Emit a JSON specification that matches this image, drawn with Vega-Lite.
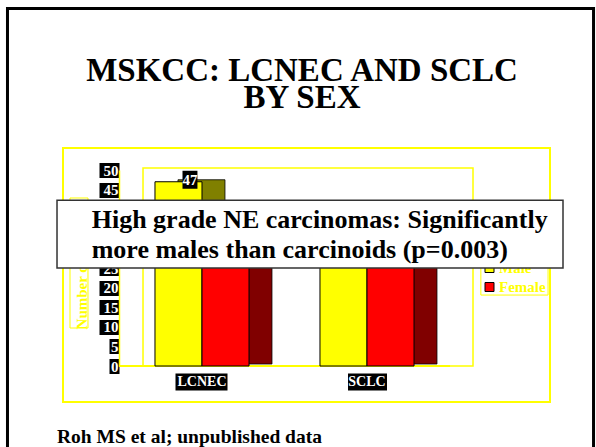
{
  "$schema": "https://vega.github.io/schema/vega-lite/v6.json",
  "width": 487,
  "height": 254,
  "autosize": {"type": "none"},
  "padding": {"left": 63, "top": 148, "right": 46, "bottom": 45},
  "background": "white",
  "config": {"view": {"stroke": "#ffff00", "strokeWidth": 2}, "font": "Liberation Serif"},
  "layer": [
    {
      "data": {"values": [{}]},
      "layer": [
        {
          "mark": {"type": "rect", "fill": "white", "fillOpacity": 0, "stroke": "black", "strokeWidth": 3},
          "encoding": {
            "x": {"datum": -0.114, "type": "quantitative", "scale": {"domain": [0, 1], "nice": false, "zero": false}, "axis": null},
            "x2": {"datum": 1.0894},
            "y": {"datum": 91.2, "type": "quantitative", "scale": {"domain": [0, 50], "range": [218, 22], "nice": false, "zero": false}, "axis": null},
            "y2": {"datum": -24}
          }
        },
        {
          "mark": {"type": "rect", "fill": "white", "fillOpacity": 0, "stroke": "#ffff00", "strokeWidth": 1.5},
          "encoding": {
            "x": {"datum": 0.1643, "type": "quantitative", "scale": {"domain": [0, 1], "nice": false, "zero": false}, "axis": null},
            "x2": {"datum": 0.8419},
            "y": {"datum": 50.5, "type": "quantitative", "scale": {"domain": [0, 50], "range": [218, 22], "nice": false, "zero": false}, "axis": null},
            "y2": {"datum": 0}
          }
        },
        {
          "mark": {"type": "rect", "fill": "white", "fillOpacity": 0, "stroke": "#ffff00", "strokeWidth": 1},
          "encoding": {
            "x": {"datum": 0.0144, "type": "quantitative", "scale": {"domain": [0, 1], "nice": false, "zero": false}, "axis": null},
            "x2": {"datum": 0.0513},
            "y": {"datum": 42.86, "type": "quantitative", "scale": {"domain": [0, 50], "range": [218, 22], "nice": false, "zero": false}, "axis": null},
            "y2": {"datum": 9.69}
          }
        },
        {
          "mark": {"type": "rule", "color": "#ffff00", "strokeWidth": 2},
          "encoding": {
            "x": {"datum": 0.115, "type": "quantitative", "scale": {"domain": [0, 1], "nice": false, "zero": false}, "axis": null},
            "x2": {"datum": 0.7947},
            "y": {"datum": 0, "type": "quantitative", "scale": {"domain": [0, 50], "range": [218, 22], "nice": false, "zero": false}, "axis": null}
          }
        },
        {
          "mark": {"type": "text", "text": ["MSKCC: LCNEC AND SCLC", "BY SEX"], "lineHeight": 27, "align": "center", "baseline": "alphabetic", "color": "black", "font": "Liberation Serif", "fontWeight": "bold", "fontSize": 33},
          "encoding": {
            "x": {"datum": 0.4908, "type": "quantitative", "scale": {"domain": [0, 1], "nice": false, "zero": false}, "axis": null},
            "y": {"datum": 72.7, "type": "quantitative", "scale": {"domain": [0, 50], "range": [218, 22], "nice": false, "zero": false}, "axis": null}
          }
        }
      ]
    },
    {
      "data": {
        "values": [
          {"type": "LCNEC", "sex": "Male", "count": 47},
          {"type": "LCNEC", "sex": "Female", "count": 35},
          {"type": "SCLC", "sex": "Male", "count": 38},
          {"type": "SCLC", "sex": "Female", "count": 32}
        ]
      },
      "encoding": {
        "x": {
          "field": "type",
          "type": "nominal",
          "sort": ["LCNEC", "SCLC"],
          "scale": {"domain": ["LCNEC", "SCLC"], "range": [56, 387], "paddingInner": 0.43, "paddingOuter": 0.218},
          "axis": {
            "title": null,
            "domain": false,
            "grid": false,
            "offset": -29,
            "bandPosition": 0.5,
            "tickSize": 17,
            "tickWidth": {"condition": {"test": "datum.value === 'LCNEC'", "value": 52}, "value": 39},
            "tickColor": "black",
            "labelColor": "white",
            "labelFont": "Liberation Serif",
            "labelFontWeight": "bold",
            "labelFontSize": 14,
            "labelPadding": -8.5,
            "labelBaseline": "middle",
            "labelAngle": 0
          }
        },
        "y": {
          "field": "count",
          "type": "quantitative",
          "scale": {"domain": [0, 50], "range": [218, 22], "nice": false, "zero": false},
          "axis": {
            "values": [0, 5, 10, 15, 20, 25, 30, 35, 40, 45, 50],
            "title": "Number of patients",
            "offset": -56,
            "grid": false,
            "domainColor": "#ffff00",
            "domainWidth": 1.5,
            "tickColor": "black",
            "tickSize": {"condition": {"test": "datum.value < 10", "value": 10}, "value": 20},
            "tickWidth": 15,
            "labelPadding": {"condition": {"test": "datum.value < 10", "value": -9}, "value": -19},
            "labelColor": "white",
            "labelFont": "Liberation Serif",
            "labelFontWeight": "bold",
            "labelFontSize": 15,
            "labelBaseline": "middle",
            "labelOverlap": false,
            "labelFlush": false,
            "labelBound": false,
            "titleColor": "#ffff00",
            "titleFont": "Liberation Serif",
            "titleFontSize": 15,
            "titleFontWeight": "bold",
            "titleAngle": -90,
            "titleX": -38,
            "titleY": 119,
            "titleAlign": "center",
            "titleBaseline": "middle"
          }
        }
      },
      "layer": [
        {
          "mark": {"type": "bar", "yOffset": -2, "y2Offset": -2, "stroke": "black", "strokeWidth": 0.8},
          "encoding": {
            "xOffset": {"field": "sex", "sort": ["Male", "Female"], "scale": {"domain": ["Male", "Female"], "range": [23, 117]}},
            "color": {"condition": {"test": "datum.sex === 'Male'", "value": "#808000"}, "value": "#800000"}
          }
        },
        {
          "mark": {"type": "bar", "stroke": "black", "strokeWidth": 1},
          "encoding": {
            "xOffset": {"field": "sex", "sort": ["Male", "Female"], "scale": {"domain": ["Male", "Female"]}},
            "color": {"field": "sex", "scale": {"domain": ["Male", "Female"], "range": ["#ffff00", "#ff0000"]}, "legend": null}
          }
        },
        {
          "mark": {"type": "point", "shape": "M-0.83,-1H0.83V1H-0.83Z", "size": 324, "filled": true, "color": "black", "opacity": 1, "strokeWidth": 0, "yOffset": -2},
          "encoding": {
            "xOffset": {"field": "sex", "sort": ["Male", "Female"], "scale": {"domain": ["Male", "Female"], "range": [11.5, 105.5]}}
          }
        },
        {
          "mark": {"type": "text", "dx": 11.5, "dy": -2, "color": "white", "font": "Liberation Serif", "fontWeight": "bold", "fontSize": 15, "baseline": "middle", "align": "center"},
          "encoding": {
            "xOffset": {"field": "sex", "sort": ["Male", "Female"], "scale": {"domain": ["Male", "Female"]}},
            "text": {"field": "count", "type": "quantitative"}
          }
        }
      ],
      "resolve": {"scale": {"xOffset": "independent"}}
    },
    {
      "data": {"values": [{}]},
      "layer": [
        {
          "mark": {"type": "rect", "fill": "white", "stroke": "#ffff00", "strokeWidth": 1},
          "encoding": {
            "x": {"datum": 0.858, "type": "quantitative", "scale": {"domain": [0, 1], "nice": false, "zero": false}, "axis": null},
            "x2": {"datum": 0.996},
            "y": {"datum": 28.06, "type": "quantitative", "scale": {"domain": [0, 50], "range": [218, 22], "nice": false, "zero": false}, "axis": null},
            "y2": {"datum": 18.1}
          }
        },
        {
          "mark": {"type": "square", "size": 81, "filled": true, "fill": "#ffff00", "stroke": "black", "strokeWidth": 1, "opacity": 1},
          "encoding": {
            "x": {"datum": 0.8758, "type": "quantitative", "scale": {"domain": [0, 1], "nice": false, "zero": false}, "axis": null},
            "y": {"datum": 25.0, "type": "quantitative", "scale": {"domain": [0, 50], "range": [218, 22], "nice": false, "zero": false}, "axis": null}
          }
        },
        {
          "mark": {"type": "square", "size": 81, "filled": true, "fill": "#ff0000", "stroke": "black", "strokeWidth": 1, "opacity": 1},
          "encoding": {
            "x": {"datum": 0.8758, "type": "quantitative", "scale": {"domain": [0, 1], "nice": false, "zero": false}, "axis": null},
            "y": {"datum": 20.15, "type": "quantitative", "scale": {"domain": [0, 50], "range": [218, 22], "nice": false, "zero": false}, "axis": null}
          }
        },
        {
          "mark": {"type": "text", "text": ["Male", "Female"], "lineHeight": 19, "align": "left", "baseline": "alphabetic", "color": "#ffff00", "font": "Liberation Serif", "fontWeight": "bold", "fontSize": 15},
          "encoding": {
            "x": {"datum": 0.8953, "type": "quantitative", "scale": {"domain": [0, 1], "nice": false, "zero": false}, "axis": null},
            "y": {"datum": 23.72, "type": "quantitative", "scale": {"domain": [0, 50], "range": [218, 22], "nice": false, "zero": false}, "axis": null}
          }
        },
        {
          "mark": {"type": "rect", "fill": "white", "stroke": "#333333", "strokeWidth": 1.5},
          "encoding": {
            "x": {"datum": -0.0123, "type": "quantitative", "scale": {"domain": [0, 1], "nice": false, "zero": false}, "axis": null},
            "x2": {"datum": 1.0267},
            "y": {"datum": 42.3, "type": "quantitative", "scale": {"domain": [0, 50], "range": [218, 22], "nice": false, "zero": false}, "axis": null},
            "y2": {"datum": 25.0}
          }
        },
        {
          "mark": {"type": "text", "text": ["High grade NE carcinomas: Significantly", "more males than carcinoids (p=0.003)"], "lineHeight": 30, "align": "left", "baseline": "alphabetic", "color": "black", "font": "Liberation Serif", "fontWeight": "bold", "fontSize": 26},
          "encoding": {
            "x": {"datum": 0.0589, "type": "quantitative", "scale": {"domain": [0, 1], "nice": false, "zero": false}, "axis": null},
            "y": {"datum": 35.2, "type": "quantitative", "scale": {"domain": [0, 50], "range": [218, 22], "nice": false, "zero": false}, "axis": null}
          }
        },
        {
          "mark": {"type": "text", "text": "Roh MS et al; unpublished data", "align": "left", "baseline": "alphabetic", "color": "black", "font": "Liberation Serif", "fontWeight": "bold", "fontSize": 19.5},
          "encoding": {
            "x": {"datum": -0.0123, "type": "quantitative", "scale": {"domain": [0, 1], "nice": false, "zero": false}, "axis": null},
            "y": {"datum": -19.6, "type": "quantitative", "scale": {"domain": [0, 50], "range": [218, 22], "nice": false, "zero": false}, "axis": null}
          }
        }
      ]
    }
  ],
  "resolve": {"scale": {"x": "independent"}, "axis": {"x": "independent", "y": "independent"}}
}
